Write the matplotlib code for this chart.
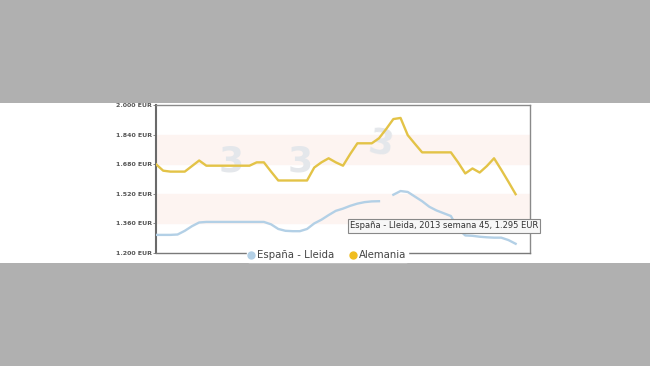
import numpy as np
import matplotlib
matplotlib.use("Agg")
import matplotlib.pyplot as plt
from matplotlib.patches import Rectangle

weeks = list(range(51))
alemania = [1.680, 1.645, 1.640, 1.640, 1.640, 1.670, 1.700, 1.672, 1.672, 1.672,
            1.672, 1.672, 1.672, 1.672, 1.690, 1.690, 1.640, 1.592, 1.592, 1.592,
            1.592, 1.592, 1.662, 1.690, 1.712, 1.690, 1.672, 1.735, 1.793, 1.793,
            1.793, 1.820, 1.870, 1.924, 1.930, 1.837, 1.790, 1.744, 1.744, 1.744,
            1.744, 1.744, 1.690, 1.630, 1.657, 1.635, 1.670, 1.712, 1.650, 1.585,
            1.518]
espana = [1.298, 1.298, 1.298, 1.300, 1.320, 1.345, 1.365, 1.368, 1.368, 1.368,
          1.368, 1.368, 1.368, 1.368, 1.368, 1.368, 1.355, 1.330, 1.320, 1.318,
          1.318, 1.330, 1.360, 1.380, 1.405, 1.428, 1.440, 1.455, 1.467, 1.475,
          1.479, 1.480, np.nan, 1.515, 1.535, 1.530, 1.505, 1.480, 1.450, 1.430,
          1.415, 1.400, 1.330, 1.295, 1.293, 1.288, 1.285, 1.283, 1.283, 1.270,
          1.250]
yticks = [1.2, 1.36, 1.52, 1.68, 1.84, 2.0]
ytick_labels = ["1.200 EUR", "1.360 EUR", "1.520 EUR", "1.680 EUR", "1.840 EUR", "2.000 EUR"]
series_names = ["España - Lleida", "Alemania"]
tooltip_text = "España - Lleida, 2013 semana 45, 1.295 EUR"

fig = plt.figure(figsize=(6.5, 3.66), dpi=100)
fig.patch.set_facecolor("#b0b0b0")
fig.patches.append(Rectangle((0, 0.282), 1, 0.4366, transform=fig.transFigure,
                             facecolor="white", edgecolor="none", zorder=-5))

ax = fig.add_axes([0.24, 0.3087, 0.5754, 0.4044])
ax.set_zorder(2)
ax.set_facecolor("white")
ax.set_xlim(0, 52)
ax.set_ylim(1.2, 2.0)

# alternating bands
ax.axhspan(1.68, 1.84, color="#fdf4f1", zorder=0)
ax.axhspan(1.36, 1.52, color="#fdf4f1", zorder=0)

# watermark
for xa, ya, rot in [(0.2, 0.62, 0), (0.385, 0.62, 0), (0.6, 0.74, -10)]:
    ax.text(xa, ya, "3", transform=ax.transAxes, fontsize=26, fontweight="bold",
            color="#e4e7eb", ha="center", va="center", rotation=rot, zorder=1)

ax.plot(weeks, espana, color="#b3d0e6", lw=1.7, zorder=3, label=series_names[0])
ax.plot(weeks, alemania, color="#e3c347", lw=1.7, zorder=3, label=series_names[1])

ax.set_yticks(yticks)
ax.set_yticklabels(ytick_labels, fontsize=4.5, fontweight="bold", color="#555555")
ax.tick_params(axis="y", length=2, width=0.6, color="#777777", pad=1)
ax.set_xticks([])

for s in ["top", "right"]:
    ax.spines[s].set_color("#8a8a8a")
    ax.spines[s].set_linewidth(1.0)
ax.spines["left"].set_color("#6a6a6a")
ax.spines["left"].set_linewidth(1.5)
ax.spines["bottom"].set_color("#7a7a7a")
ax.spines["bottom"].set_linewidth(1.0)

leg = ax.legend(loc="center", bbox_to_anchor=(0.458, -0.015), ncol=2, frameon=True,
                fontsize=7.3, handlelength=0.5, handletextpad=0.3, columnspacing=1.6,
                borderpad=0.2, borderaxespad=0)
leg.get_frame().set_facecolor("white")
leg.get_frame().set_edgecolor("white")
leg.get_frame().set_alpha(1)
for h, c in zip(leg.legend_handles, ["#b3d0e6", "#f0bd20"]):
    h.set_linestyle("none")
    h.set_marker("o")
    h.set_markersize(5)
    h.set_markerfacecolor(c)
    h.set_markeredgecolor(c)
for t in leg.get_texts():
    t.set_color("#444444")
leg.set_zorder(6)

# tooltip
fig.text(350 / 650, 1 - 226 / 366, tooltip_text, fontsize=6.0, color="#333333",
         ha="left", va="center", zorder=10,
         bbox=dict(boxstyle="square,pad=0.25", facecolor="#f7f7f7", edgecolor="#888888",
                   linewidth=0.8))

fig.savefig("out.png", dpi=100, facecolor=fig.get_facecolor())
